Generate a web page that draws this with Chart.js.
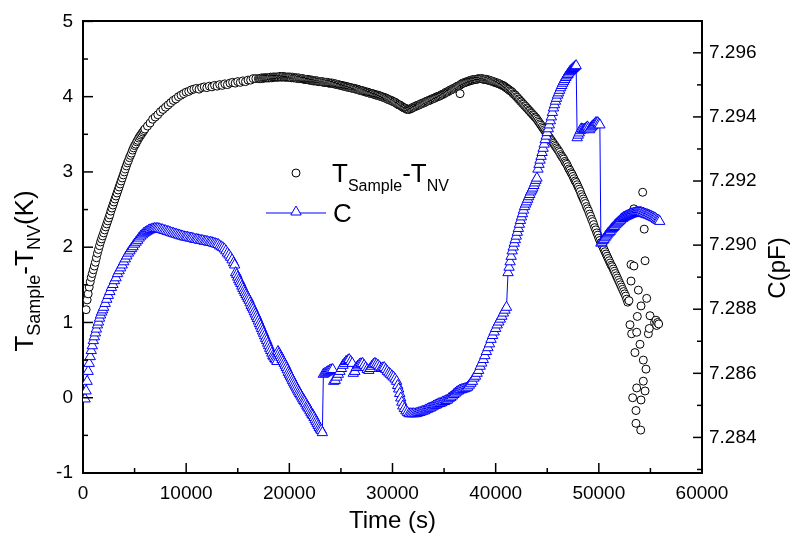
<!DOCTYPE html>
<html>
<head>
<meta charset="utf-8">
<script src="https://cdn.jsdelivr.net/npm/chart.js@4.4.1/dist/chart.umd.min.js"></script>
<style>
  html, body { margin: 0; padding: 0; background: #fff; }
</style>
</head>
<body>
<canvas id="chart" width="795" height="538"></canvas>
<script>
// temperature difference T_Sample - T_NV (K) vs time (s)
const tempTime = [
  300,400,500,600,700,800,900,1000,1100,1200,1300,1400,1500,1600,1700,1800,1900,2000,
  2100,2200,2300,2400,2500,2600,2700,2800,2900,3000,3100,3200,3300,3400,3500,3600,3700,
  3800,3900,4000,4100,4200,4300,4400,4500,4600,4700,4800,4900,5000,5100,5200,5300,5400,
  5500,5600,5700,5800,5900,
  6000,6250,6500,6750,7000,7250,7500,7750,8000,8250,8500,8750,9000,9250,9500,9750,
  10000,10250,10500,10750,11000,11250,11500,11750,12000,12250,12500,12750,13000,13250,
  13500,13750,14000,14250,14500,14750,15000,15250,15500,15750,16000,16250,16500,16750,
  17000,17100,17200,17300,17400,17500,17600,17700,17800,17900,
  18000,18100,18200,18300,18400,18500,18600,18700,18800,18900,
  19000,19100,19200,19300,19400,19500,19600,19700,19800,19900,
  20000,20100,20200,20300,20400,20500,20600,20700,20800,20900,
  21000,21100,21200,21300,21400,21500,21600,21700,21800,21900,
  22000,22100,22200,22300,22400,22500,22600,22700,22800,22900,
  23000,23100,23200,23300,23400,23500,23600,23700,23800,23900,
  24000,24100,24200,24300,24400,24500,24600,24700,24800,24900,
  25000,25100,25200,25300,25400,25500,25600,25700,25800,25900,
  26000,26100,26200,26300,26400,26500,26600,26700,26800,26900,
  27000,27100,27200,27300,27400,27500,27600,27700,27800,27900,
  28000,28100,28200,28300,28400,28500,28600,28700,28800,28900,
  29000,29100,29200,29300,29400,29500,29600,29700,29800,29900,
  30000,30100,30200,30300,30400,30500,30600,30700,30800,30900,
  31000,31100,31200,31300,31400,31500,31600,31700,31800,31900,
  32000,32100,32200,32300,32400,32500,32600,32700,32800,32900,
  33000,33100,33200,33300,33400,33500,33600,33700,33800,33900,
  34000,34100,34200,34300,34400,34500,34600,34700,34800,34900,
  35000,35100,35200,35300,35400,35500,35600,35700,35800,35900,
  36000,36100,36200,36300,36400,36500,36600,36700,36800,36900,
  37000,37100,37200,37300,37400,37500,37600,37700,37800,37900,
  38000,38100,38200,38300,38400,38500,38600,38700,38800,38900,
  39000,39100,39200,39300,39400,39500,39600,39700,39800,39900,
  40000,40100,40200,40300,40400,40500,40600,40700,40800,40900,
  41000,41100,41200,41300,41400,41500,41600,41700,41800,41900,
  42000,42100,42200,42300,42400,42500,42600,42700,42800,42900,
  43000,43100,43200,43300,43400,43500,43600,43700,43800,43900,
  44000,44100,44200,44300,44400,44500,44600,44700,44800,44900,
  45000,45100,45200,45300,45400,45500,45600,45700,45800,45900,
  46000,46100,46200,46300,46400,46500,46600,46700,46800,46900,
  47000,47100,47200,47300,47400,47500,47600,47700,47800,47900,
  48000,48100,48200,48300,48400,48500,48600,48700,48800,48900,
  49000,49100,49200,49300,49400,49500,49600,49700,49800,49900,
  50000,50100,50200,50300,50400,50500,50600,50700,50800,50900,
  51000,51100,51200,51300,51400,51500,51600,51700,51800,51900,
  52000,52100,52200,52300,52400,52500,52600,52700,52800,
  36550,
  52920,53020,53120,53120,53180,53280,53400,53400,53500,53600,53600,53670,53670,53730,
  53830,53990,54060,54090,54090,54250,54310,54310,54400,54480,54480,54570,54640,54800,
  54890,54960,55400,55540,55600,55700,55800
];
const tempDiff = [
  1.17,1.3,1.38,1.47,1.54,1.6,1.65,1.7,1.75,1.8,1.86,1.92,1.97,2.02,2.07,2.11,2.15,2.19,
  2.23,2.27,2.31,2.35,2.39,2.43,2.48,2.52,2.56,2.6,2.64,2.68,2.72,2.76,2.8,2.84,2.88,
  2.92,2.96,3.0,3.04,3.08,3.12,3.15,3.19,3.22,3.25,3.29,3.32,3.35,3.37,3.4,3.42,3.45,
  3.47,3.49,3.51,3.53,3.55,
  3.57,3.61,3.65,3.7,3.73,3.76,3.8,3.83,3.86,3.89,3.92,3.95,3.97,4.0,4.02,4.04,
  4.06,4.07,4.09,4.1,4.11,4.1,4.12,4.13,4.12,4.14,4.13,4.15,4.14,4.16,
  4.15,4.17,4.16,4.18,4.19,4.18,4.2,4.19,4.21,4.2,4.22,4.22,4.24,4.24,
  4.24,4.24,4.24,4.25,4.24,4.25,4.25,4.25,4.25,4.25,
  4.25,4.25,4.26,4.25,4.26,4.26,4.26,4.26,4.26,4.26,
  4.26,4.27,4.26,4.26,4.27,4.26,4.26,4.26,4.26,4.26,
  4.26,4.26,4.25,4.26,4.25,4.25,4.25,4.25,4.24,4.25,
  4.24,4.24,4.24,4.24,4.23,4.23,4.23,4.23,4.23,4.22,
  4.22,4.22,4.22,4.21,4.21,4.21,4.21,4.21,4.2,4.2,
  4.2,4.2,4.2,4.19,4.19,4.19,4.19,4.19,4.18,4.18,
  4.18,4.18,4.18,4.17,4.17,4.17,4.16,4.16,4.16,4.15,
  4.15,4.15,4.14,4.14,4.14,4.13,4.13,4.13,4.12,4.12,
  4.12,4.11,4.11,4.11,4.1,4.1,4.1,4.09,4.09,4.08,
  4.08,4.08,4.07,4.07,4.06,4.06,4.06,4.05,4.05,4.04,
  4.04,4.04,4.03,4.03,4.02,4.02,4.02,4.01,4.01,4.0,
  4.0,3.99,3.99,3.98,3.98,3.97,3.96,3.96,3.95,3.95,
  3.94,3.93,3.93,3.92,3.91,3.9,3.89,3.89,3.88,3.87,
  3.86,3.85,3.85,3.84,3.83,3.83,3.83,3.84,3.84,3.85,
  3.86,3.86,3.87,3.88,3.88,3.89,3.89,3.9,3.91,3.91,
  3.92,3.92,3.93,3.94,3.94,3.95,3.95,3.96,3.97,3.97,
  3.98,3.98,3.99,4.0,4.0,4.01,4.01,4.02,4.03,4.03,
  4.04,4.05,4.06,4.06,4.07,4.08,4.09,4.09,4.1,4.11,
  4.11,4.12,4.13,4.14,4.14,4.15,4.16,4.17,4.18,4.18,
  4.19,4.19,4.2,4.2,4.21,4.21,4.22,4.22,4.22,4.23,
  4.23,4.23,4.23,4.24,4.24,4.24,4.24,4.24,4.23,4.23,
  4.23,4.23,4.22,4.22,4.22,4.21,4.21,4.2,4.2,4.19,
  4.19,4.18,4.18,4.17,4.17,4.16,4.15,4.15,4.14,4.13,
  4.12,4.11,4.1,4.09,4.08,4.07,4.06,4.04,4.03,4.02,
  4.0,3.99,3.97,3.96,3.94,3.93,3.91,3.9,3.88,3.87,
  3.85,3.84,3.82,3.81,3.79,3.78,3.76,3.75,3.73,3.72,
  3.7,3.68,3.66,3.64,3.62,3.6,3.58,3.56,3.54,3.52,
  3.5,3.48,3.46,3.44,3.42,3.4,3.38,3.36,3.34,3.32,
  3.3,3.28,3.26,3.23,3.21,3.19,3.17,3.14,3.12,3.1,
  3.07,3.04,3.02,2.99,2.97,2.94,2.91,2.88,2.86,2.83,
  2.8,2.77,2.74,2.7,2.67,2.64,2.61,2.58,2.54,2.51,
  2.48,2.44,2.41,2.37,2.34,2.3,2.26,2.23,2.19,2.16,
  2.12,2.09,2.06,2.03,2.0,1.97,1.94,1.91,1.88,1.85,
  1.82,1.79,1.76,1.74,1.71,1.68,1.65,1.62,1.59,1.56,
  1.53,1.5,1.47,1.44,1.41,1.38,1.35,1.31,1.27,
  4.04,
  1.29,0.97,1.77,1.55,0.85,0.0,2.51,1.75,0.6,-0.17,-0.34,0.87,0.13,1.08,
  1.43,0.71,-0.43,1.22,-0.03,2.73,0.5,0.22,2.24,1.82,0.09,0.38,1.32,0.85,
  0.92,1.09,1.0,1.03,0.96,1.0,0.98
];

// capacitance C (pF) vs time (s)
const capTime = [
  200,300,400,500,600,700,800,900,1000,1100,1200,1300,1400,1500,1600,1700,1800,1900,2000,
  2150,2300,2450,2600,2750,2900,3050,3200,3350,3500,3650,3800,3950,4100,4250,4400,4550,
  4700,4850,5000,5150,5300,5450,5600,5750,5900,6050,6200,6350,6500,6650,6800,6950,7100,
  7250,7400,7550,7700,7850,8000,8150,8300,8450,8600,8750,8900,9050,9200,9350,9500,9650,
  9800,9950,10100,10250,10400,10550,10700,10850,11000,11150,11300,11450,11600,11750,
  11900,12050,12200,12350,12500,12650,12800,12950,13100,13250,13400,13550,13700,13850,
  14000,14150,14300,14450,14600,14700,
  14800,14900,15000,15100,15200,15300,15400,15500,15600,15700,
  15800,15900,16000,16100,16200,16300,16400,16500,16600,16700,
  16800,16900,17000,17100,17200,17300,17400,17500,17600,17700,
  17800,17900,18000,18100,18200,18300,18400,18500,18600,18700,
  18800,18900,19000,19100,19200,19300,19400,19500,19600,19700,
  19800,19900,20000,20100,20200,20300,20400,20500,20600,20700,
  20800,20900,21000,21100,21200,21300,21400,21500,21600,21700,
  21800,21900,22000,22100,22200,22300,22400,22500,22600,22700,
  22800,22900,23000,23100,23200,
  23300,23450,23600,23750,23900,24050,24200,24300,24450,24600,
  24750,24900,25050,25200,25350,25500,25650,25800,25950,26100,
  26200,26350,26500,26650,26800,26950,27100,27250,27400,27550,
  27700,27850,28000,28150,28300,28450,28600,28750,28900,29050,
  29200,29350,29500,29650,29800,29950,30100,30250,30400,30500,
  30600,30700,30800,30900,31000,31150,31300,31450,31600,
  31750,31900,32050,32200,32350,32500,32650,32800,32950,33100,
  33250,33400,33550,33700,33850,34000,34150,34300,34450,34600,
  34750,34900,35050,35200,35350,35500,35650,35800,35950,36100,
  36250,36400,36550,36700,36850,37000,37150,37300,37450,37600,
  37750,37900,38050,38200,38350,38500,38650,38800,38950,39100,
  39250,39400,39550,39700,39850,40000,40150,40300,40450,40600,
  40750,40900,41050,
  41200,41300,41400,41500,41600,41700,41800,41900,42000,42100,
  42200,42300,42400,42500,42600,42700,42800,42900,43000,43100,
  43200,43300,43400,43500,43600,43700,43800,43900,44000,44100,
  44200,44300,44400,44500,44600,44700,44800,44900,45000,45100,
  45200,45300,45400,45500,45600,45700,45800,45900,46000,46100,
  46200,46300,46400,46500,46600,46700,46800,46900,47000,47100,
  47200,47300,47400,47500,47600,47700,47800,
  47900,48000,48100,48200,48300,48400,48500,48600,48700,48800,
  48900,49000,49100,49200,49300,49400,49500,49600,49700,49800,
  49900,50000,50100,
  50200,50300,50400,50500,50600,50700,50800,50900,51000,51100,
  51200,51300,51400,51500,51600,51700,51800,51900,52000,52100,
  52200,52300,52400,52500,52600,52700,52800,52900,53000,53100,
  53200,53300,53400,53500,53600,53700,53800,53900,54000,54100,
  54200,54300,54400,54500,54600,54700,54800,54900,55000,55100,
  55200,55300,55400,55500,55600,55700,55800,55900
];
const capVal = [
  7.2852,7.28545,7.28575,7.28606,7.28631,7.28652,7.28671,7.28686,7.28702,7.28714,
  7.28726,7.28738,7.28751,7.2876,7.28772,7.28782,7.28791,7.28798,7.28806,
  7.28818,7.28831,7.28843,7.28855,7.28868,7.28877,7.28889,7.28898,7.28911,7.2892,7.28929,
  7.28938,7.28948,7.28957,7.28966,7.28975,7.28982,7.28989,7.28995,7.29003,7.29009,7.29015,
  7.29022,7.29028,7.29032,7.29037,7.2904,7.29043,7.29046,7.29048,7.29049,7.29051,7.29052,
  7.29052,7.29052,7.29051,7.29049,7.29048,7.29046,7.29045,7.29043,7.29042,7.2904,7.29038,
  7.29037,7.29035,7.29034,7.29032,7.29031,7.29029,7.29028,7.29026,7.29025,7.29025,7.29023,
  7.29022,7.29022,7.2902,7.29018,7.29018,7.29017,7.29015,7.29015,7.29014,7.29012,7.29012,
  7.29011,7.29009,7.29009,7.29008,7.29006,7.29005,7.29003,7.29002,7.28998,7.28995,7.28992,
  7.28988,7.28982,7.28975,7.28969,7.28962,7.28954,7.28945,7.28938,
  7.28914,7.28908,7.289,7.28892,7.28886,7.2888,7.28872,7.28865,7.28858,7.28852,
  7.28846,7.2884,7.28834,7.28828,7.2882,7.28812,7.28806,7.288,7.28792,7.28785,
  7.28778,7.28771,7.28763,7.28755,7.28748,7.2874,7.28732,7.28725,7.28717,7.28709,
  7.28702,7.28694,7.28686,7.28678,7.28671,7.28663,7.28655,7.28651,7.28646,7.28642,
  7.28637,7.28668,7.28662,7.28655,7.28649,7.28643,7.28637,7.28631,7.28625,7.28618,
  7.28611,7.28603,7.28597,7.28591,7.28585,7.28578,7.28572,7.28566,7.2856,7.28554,
  7.28548,7.28542,7.28537,7.28532,7.28526,7.2852,7.28515,7.28511,7.28505,7.28498,
  7.28494,7.28489,7.28483,7.28477,7.28472,7.28468,7.28462,7.28455,7.28449,7.28443,
  7.28437,7.28431,7.28426,7.28422,7.28415,
  7.28597,7.286,7.28603,7.28606,7.28609,7.28611,7.28612,7.28575,7.28578,7.28588,
  7.28597,7.28606,7.28615,7.28625,7.28631,7.28637,7.2864,7.28643,7.28637,7.28631,
  7.286,7.28606,7.28618,7.28623,7.28628,7.2863,7.28631,7.28625,7.28618,7.28612,
  7.28609,7.28615,7.28622,7.28628,7.28631,7.28628,7.28625,7.2862,7.28615,7.28617,
  7.28618,7.28612,7.28606,7.28601,7.28597,7.28592,7.28588,7.28582,7.28575,7.28562,
  7.28551,7.28537,7.28523,7.2851,7.28498,7.2849,7.28483,7.28478,7.28474,
  7.28474,7.28474,7.28474,7.28474,7.28475,7.28477,7.28478,7.2848,7.28482,7.28483,
  7.28486,7.28488,7.28491,7.28492,7.28495,7.28498,7.285,7.28502,7.28505,7.28506,
  7.28508,7.28511,7.28512,7.28515,7.28517,7.28522,7.28525,7.28529,7.28534,7.28538,
  7.28542,7.28545,7.28548,7.28549,7.28551,7.28552,7.28554,7.28557,7.28563,7.28569,
  7.28575,7.28585,7.28591,7.286,7.28609,7.28622,7.28632,7.28643,7.28655,7.28668,
  7.2868,7.28692,7.28706,7.28718,7.28729,7.2874,7.28751,7.2876,7.28769,7.28778,
  7.28788,7.28797,7.28806,
  7.28914,7.28931,7.28948,7.28965,7.28982,7.28994,7.29006,7.29017,7.29028,7.2904,
  7.29052,7.29065,7.29077,7.29088,7.29098,7.29109,7.2912,7.29128,7.29135,7.29143,
  7.29151,7.29158,7.29166,7.29172,7.29178,7.29186,7.29194,7.29202,7.29209,7.29237,
  7.29252,7.29265,7.29277,7.29289,7.29302,7.29315,7.29329,7.2934,7.29351,7.29363,
  7.29375,7.29388,7.294,7.29414,7.29428,7.29438,7.29449,7.29458,7.29468,7.29475,
  7.29483,7.29491,7.29498,7.29505,7.29511,7.29517,7.29523,7.29528,7.29532,7.29537,
  7.29542,7.29545,7.29548,7.29551,7.29554,7.29557,7.2956,
  7.29335,7.29343,7.2935,7.29357,7.29363,7.29362,7.2936,7.29362,7.29363,7.29366,
  7.29369,7.29365,7.2936,7.29365,7.29369,7.29372,7.29375,7.29378,7.29382,7.29382,
  7.29382,7.29378,7.29375,
  7.29006,7.29009,7.29014,7.29018,7.29023,7.29028,7.29032,7.29037,7.2904,7.29043,
  7.29048,7.29052,7.29055,7.29058,7.29063,7.29066,7.29069,7.29072,7.29075,7.29078,
  7.29082,7.29083,7.29086,7.29088,7.29089,7.29091,7.29092,7.29094,7.29095,7.29097,
  7.29098,7.29098,7.291,7.291,7.29102,7.29102,7.29102,7.29102,7.29102,7.29102,
  7.291,7.291,7.29098,7.29097,7.29095,7.29095,7.29094,7.29092,7.29091,7.29089,
  7.29088,7.29086,7.29085,7.29083,7.2908,7.29078,7.29077,7.29074
];

// labelled ticks on the capacitance axis
const capTicks = [7.284, 7.286, 7.288, 7.290, 7.292, 7.294, 7.296];

const FONT = "'Liberation Sans', Arial, Helvetica, sans-serif";
const BLUE = '#0000ff';

Chart.defaults.font.family = FONT;
Chart.defaults.color = '#000';

// text with subscripts, drawn left to right from (x, y) in the current transform
function richText(ctx, parts, x, y, size, subSize, subShift) {
  let cx = x;
  parts.forEach(p => {
    ctx.font = (p.sub ? subSize : size) + 'px ' + FONT;
    ctx.fillText(p.t, cx, p.sub ? y + subShift : y);
    cx += ctx.measureText(p.t).width;
  });
  return cx - x;
}
function richWidth(ctx, parts, size, subSize) {
  return parts.reduce((w, p) => {
    ctx.font = (p.sub ? subSize : size) + 'px ' + FONT;
    return w + ctx.measureText(p.t).width;
  }, 0);
}

const tempLabel = [{t: 'T'}, {t: 'Sample', sub: true}, {t: '-T'}, {t: 'NV', sub: true}];

const extras = {
  id: 'extras',
  afterDatasetsDraw(chart) {
    const {ctx, chartArea: a, scales} = chart;
    ctx.save();
    ctx.strokeStyle = '#000';
    ctx.lineWidth = 1.5;
    const tick = (x1, y1, x2, y2) => {
      ctx.beginPath(); ctx.moveTo(x1, y1); ctx.lineTo(x2, y2); ctx.stroke();
    };
    // inward tick marks, half-length minor ticks between labels
    const withMinor = s => {
      const v = s.ticks.map(t => t.value);
      const out = [];
      v.forEach((val, i) => {
        out.push([val, 10]);
        if (i < v.length - 1) out.push([(val + v[i + 1]) / 2, 5]);
      });
      const step = v[1] - v[0];
      if (v[0] - step / 2 > s.min) out.push([v[0] - step / 2, 5]);
      if (v[v.length - 1] + step / 2 < s.max) out.push([v[v.length - 1] + step / 2, 5]);
      return out;
    };
    withMinor(scales.y).forEach(([v, l]) => {
      const py = scales.y.getPixelForValue(v);
      tick(a.left, py, a.left + l, py);
    });
    withMinor(scales.y2).forEach(([v, l]) => {
      const py = scales.y2.getPixelForValue(v);
      tick(a.right, py, a.right - (l === 10 ? 9 : 5), py);
    });
    withMinor(scales.x).forEach(([v, l]) => {
      const px = scales.x.getPixelForValue(v);
      tick(px, a.bottom, px, a.bottom - l);
    });
    ctx.restore();
  },
  afterDraw(chart) {
    const {ctx} = chart;
    ctx.save();
    ctx.fillStyle = '#000';
    ctx.textBaseline = 'alphabetic';
    ctx.textAlign = 'left';

    // left axis title, rotated
    const leftParts = tempLabel.concat([{t: '(K)'}]);
    const lw = richWidth(ctx, leftParts, 26, 18);
    ctx.save();
    ctx.translate(33, 271 + lw / 2);
    ctx.rotate(-Math.PI / 2);
    richText(ctx, leftParts, 0, 0, 26, 18, 7);
    ctx.restore();

    // right axis title, rotated
    ctx.save();
    ctx.font = '24px ' + FONT;
    const rw = ctx.measureText('C(pF)').width;
    ctx.translate(785, 268 + rw / 2);
    ctx.rotate(-Math.PI / 2);
    ctx.fillText('C(pF)', 0, 0);
    ctx.restore();

    // legend
    const lx = 296;
    ctx.lineWidth = 1;
    ctx.strokeStyle = '#000';
    ctx.fillStyle = '#fff';
    Chart.helpers.drawPoint(ctx, {pointStyle: 'circle', radius: 4, borderWidth: 1}, lx, 173);
    ctx.fillStyle = '#000';
    richText(ctx, tempLabel, 332, 182, 26, 16, 9);

    ctx.strokeStyle = BLUE;
    ctx.beginPath(); ctx.moveTo(266, 213); ctx.lineTo(326, 213); ctx.stroke();
    ctx.fillStyle = '#fff';
    Chart.helpers.drawPoint(ctx, {pointStyle: 'triangle', radius: 6, borderWidth: 1}, lx, 212);
    ctx.fillStyle = '#000';
    ctx.font = '26px ' + FONT;
    ctx.fillText('C', 333, 222);
    ctx.restore();
  }
};

new Chart(document.getElementById('chart'), {
  type: 'scatter',
  data: {
    datasets: [
      {
        label: 'C',
        data: capTime.map((t, i) => ({x: t, y: capVal[i]})),
        yAxisID: 'y2',
        showLine: true,
        borderColor: BLUE,
        borderWidth: 1,
        pointStyle: 'triangle',
        pointRadius: 6,
        pointBackgroundColor: '#fff',
        pointBorderColor: BLUE,
        pointBorderWidth: 1,
        order: 0
      },
      {
        label: 'T',
        data: tempTime.map((t, i) => ({x: t, y: tempDiff[i]})),
        yAxisID: 'y',
        showLine: false,
        pointStyle: 'circle',
        pointRadius: 4,
        pointBackgroundColor: '#fff',
        pointBorderColor: '#000',
        pointBorderWidth: 1,
        order: 1
      }
    ]
  },
  options: {
    responsive: false,
    animation: false,
    devicePixelRatio: 1,
    layout: {padding: 0},
    plugins: {legend: {display: false}, tooltip: {enabled: false}},
    scales: {
      x: {
        type: 'linear', position: 'bottom', min: 0, max: 60000,
        ticks: {stepSize: 10000, font: {size: 19}, padding: 9, maxRotation: 0, callback: v => String(v)},
        grid: {display: false, drawTicks: false},
        border: {color: '#000', width: 2},
        title: {display: true, text: 'Time (s)', font: {size: 24}, padding: {top: 0, bottom: 2}},
        afterFit(s) { s.height = 65; }
      },
      xTop: {
        type: 'linear', position: 'top', min: 0, max: 60000,
        ticks: {display: false},
        grid: {display: false, drawTicks: false},
        border: {color: '#000', width: 2},
        afterFit(s) { s.height = 15; }
      },
      y: {
        type: 'linear', position: 'left', min: -1, max: 5,
        ticks: {stepSize: 1, font: {size: 19}, padding: 10},
        grid: {display: false, drawTicks: false},
        border: {color: '#000', width: 2},
        afterFit(s) { s.width = 83; }
      },
      y2: {
        type: 'linear', position: 'right', min: 7.28289, max: 7.29698,
        afterBuildTicks(s) { s.ticks = capTicks.map(v => ({value: v})); },
        ticks: {font: {size: 19}, padding: 7, callback: v => v.toFixed(3)},
        grid: {display: false, drawTicks: false},
        border: {color: '#000', width: 2},
        afterFit(s) { s.width = 93; }
      }
    }
  },
  plugins: [extras]
});
</script>
</body>
</html>
